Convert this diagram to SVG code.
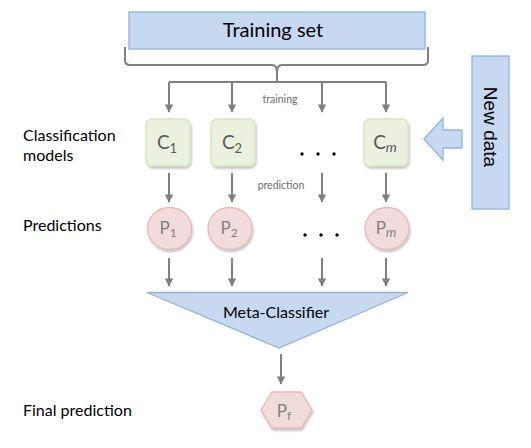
<svg xmlns="http://www.w3.org/2000/svg" width="531" height="448" viewBox="0 0 531 448">
<defs>
<marker id="ah" viewBox="0 0 10 10" refX="9" refY="5" markerWidth="4.2" markerHeight="4.2" orient="auto" markerUnits="strokeWidth">
<path d="M0,0 L10,5 L0,10 z" fill="#7f7f7f"/>
</marker>
<filter id="sh" x="-20%" y="-20%" width="150%" height="150%">
<feGaussianBlur in="SourceAlpha" stdDeviation="1.2"/>
<feOffset dx="0.8" dy="1.5" result="b"/>
<feComponentTransfer><feFuncA type="linear" slope="0.25"/></feComponentTransfer>
<feMerge><feMergeNode/><feMergeNode in="SourceGraphic"/></feMerge>
</filter>
</defs>
<style>
.lbl{font-family:Lato,"Open Sans","Liberation Sans",sans-serif;fill:#000;}
.blue{fill:#c6d9f1;stroke:#8eb4e3;stroke-width:1.3;}
.green{fill:#ebf1de;stroke:#d7e4bd;stroke-width:1.3;}
.pink{fill:#f2dcdb;stroke:#e6b9b8;stroke-width:1.3;}
.con{stroke:#808080;stroke-width:2;fill:none;}
.arr{stroke:#808080;stroke-width:2;fill:none;marker-end:url(#ah);}
.small{font-family:Lato,"Open Sans","Liberation Sans",sans-serif;fill:#6d6d6d;font-size:10.5px;}
.ctext{font-family:Lato,"Open Sans","Liberation Sans",sans-serif;fill:#595959;font-size:19px;}
.ptext{font-family:Lato,"Open Sans","Liberation Sans",sans-serif;fill:#7f7f7f;font-size:17px;}
.dot{fill:#000;}
</style>

<g id="training-set">
<rect class="blue" x="129" y="12" width="296" height="37"/>
<text class="lbl" x="273" y="37" font-size="20" text-anchor="middle">Training set</text>
</g>

<g id="connectors">
<path class="con" d="M125,47 V60 Q125,65 130,65 H272 Q277,65 277,72 V82 M428,47 V60 Q428,65 423,65 H282 Q277,65 277,72"/>
<path class="con" d="M169,82 H386"/>
<path class="arr" d="M169,82 V112"/>
<path class="arr" d="M232,82 V112"/>
<path class="arr" d="M322,82 V112"/>
<path class="arr" d="M386,82 V112"/>
<path class="arr" d="M169,173 V202"/>
<path class="arr" d="M232,173 V202"/>
<path class="arr" d="M322,173 V202"/>
<path class="arr" d="M386,173 V202"/>
<path class="arr" d="M169,258 V286"/>
<path class="arr" d="M232,258 V286"/>
<path class="arr" d="M322,258 V286"/>
<path class="arr" d="M386,258 V286"/>
<path class="arr" d="M281,354 V384"/>
<text class="small" x="280" y="103" text-anchor="middle">training</text>
<text class="small" x="281" y="189" text-anchor="middle">prediction</text>
</g>

<g id="label-classification">
<text class="lbl" x="23" y="141" font-size="16">Classification</text>
<text class="lbl" x="23" y="161" font-size="16">models</text>
</g>
<g id="label-predictions">
<text class="lbl" x="23" y="231" font-size="16">Predictions</text>
</g>
<g id="label-final">
<text class="lbl" x="23" y="416" font-size="16">Final prediction</text>
</g>

<g id="c1">
<rect class="green" x="146" y="119" width="44" height="47" rx="6" filter="url(#sh)"/>
<text class="ctext" x="167" y="149" text-anchor="middle">C<tspan font-size="13" dy="4">1</tspan></text>
</g>
<g id="c2">
<rect class="green" x="211" y="119" width="44" height="47" rx="6" filter="url(#sh)"/>
<text class="ctext" x="232" y="149" text-anchor="middle">C<tspan font-size="13" dy="4">2</tspan></text>
</g>
<g id="dots1">
<circle class="dot" cx="302" cy="154" r="1.7"/>
<circle class="dot" cx="318" cy="154" r="1.7"/>
<circle class="dot" cx="334" cy="154" r="1.7"/>
</g>
<g id="cm">
<rect class="green" x="364" y="119" width="44" height="47" rx="6" filter="url(#sh)"/>
<text class="ctext" x="385" y="149" text-anchor="middle">C<tspan font-size="14" font-style="italic" dy="3">m</tspan></text>
</g>

<g id="new-data-arrow">
<path class="blue" d="M424,139 L443,118 V130 H462 V148 H443 V160 Z"/>
</g>
<g id="new-data">
<rect class="blue" x="472" y="56" width="37" height="153" stroke="#7ea3d6"/>
<text x="490.5" y="127" font-family="Liberation Sans,Arial,sans-serif" font-size="19" text-anchor="middle" transform="rotate(90 490.5 127)" dy="7">New data</text>
</g>

<g id="p1">
<ellipse class="pink" cx="169.5" cy="228.5" rx="22" ry="21" filter="url(#sh)"/>
<text class="ptext" x="168" y="234" text-anchor="middle">P<tspan font-size="12" dy="3">1</tspan></text>
</g>
<g id="p2">
<ellipse class="pink" cx="230" cy="228.5" rx="22" ry="21" filter="url(#sh)"/>
<text class="ptext" x="229" y="234" text-anchor="middle">P<tspan font-size="12" dy="3">2</tspan></text>
</g>
<g id="dots2">
<circle class="dot" cx="305" cy="235" r="1.7"/>
<circle class="dot" cx="321" cy="235" r="1.7"/>
<circle class="dot" cx="337" cy="235" r="1.7"/>
</g>
<g id="pm">
<ellipse class="pink" cx="387" cy="228.5" rx="22" ry="21" filter="url(#sh)"/>
<text class="ptext" x="386" y="234" text-anchor="middle">P<tspan font-size="13" font-style="italic" dy="3">m</tspan></text>
</g>

<g id="meta-classifier">
<path d="M147,292.5 H408 L279,348 Z" fill="#c6d9f1" stroke="#95b3d7" stroke-width="1.3"/>
<text class="lbl" x="276" y="318" font-size="16" text-anchor="middle">Meta-Classifier</text>
</g>

<g id="pf">
<path class="pink" d="M261,410 L272,392 H301 L312,410 L301,428 H272 Z" filter="url(#sh)"/>
<text class="ptext" x="284" y="417" text-anchor="middle">P<tspan font-size="12" dy="3">f</tspan></text>
</g>
</svg>
